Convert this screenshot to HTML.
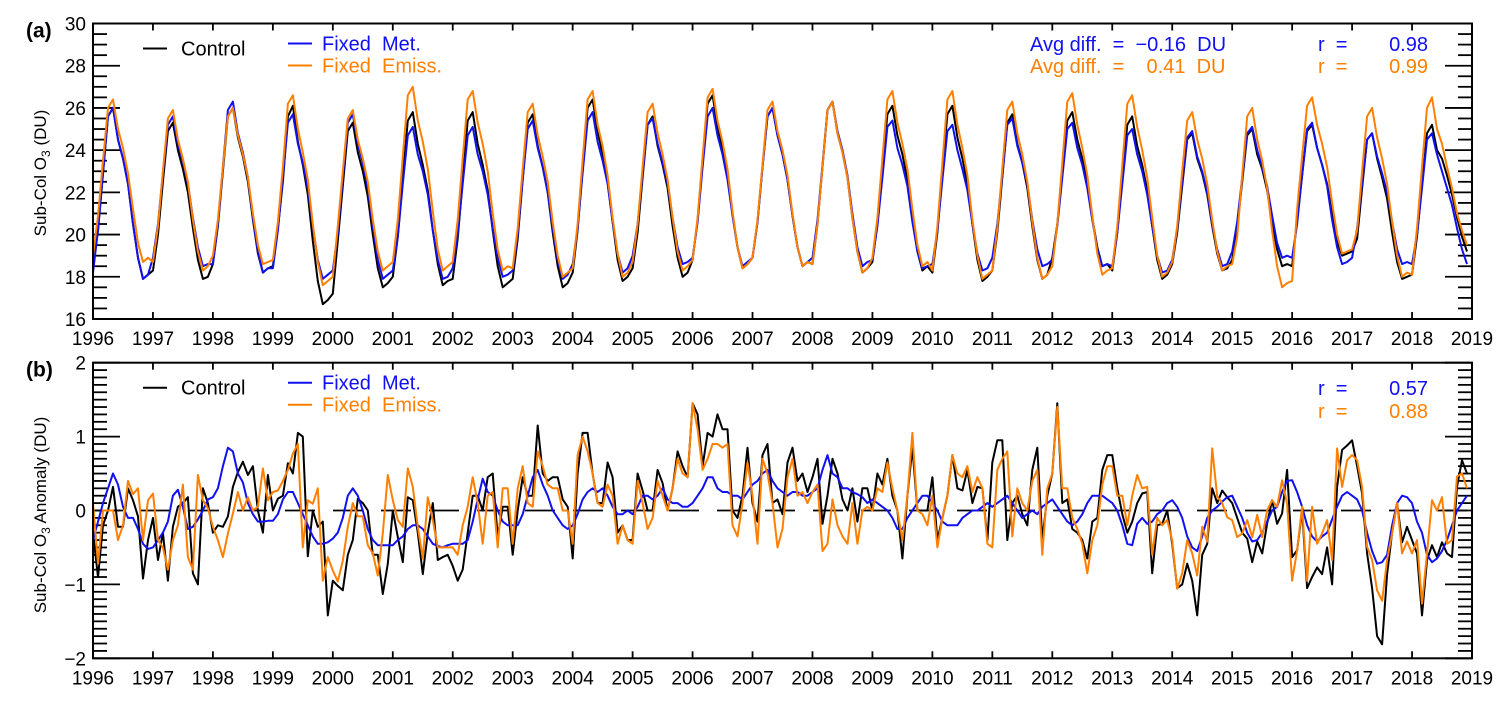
<!DOCTYPE html>
<html><head><meta charset="utf-8">
<style>
html,body{margin:0;padding:0;background:#fff;}
svg{display:block;font-family:"Liberation Sans",sans-serif;}
svg text{white-space:pre;}
</style></head>
<body>
<svg id="chart" width="1510" height="702" viewBox="0 0 1510 702" xmlns="http://www.w3.org/2000/svg" xml:space="preserve">
  <g id="panelA"></g>
  <g id="panelB"></g>
</svg>
<script>
// ---- data ----
const startYear = 1996;
const xTickYears = [1996,1997,1998,1999,2000,2001,2002,2003,2004,2005,2006,2007,2008,2009,2010,2011,2012,2013,2014,2015,2016,2017,2018,2019];
const yTicksA = [16,18,20,22,24,26,28,30];
const yTicksB = [-2,-1,0,1,2];

const controlA = [
18.9,20.2,22.9,25.6,26.0,24.5,23.6,22.4,20.5,18.9,17.9,18.1,
18.3,20.0,22.5,24.9,25.3,24.0,23.1,22.0,20.3,18.8,17.9,18.0,
18.6,20.4,23.0,25.6,26.0,24.6,23.7,22.5,20.7,19.1,18.2,18.4,
18.5,20.3,22.5,25.6,26.1,24.4,23.3,21.9,19.7,17.8,16.7,16.9,
17.2,19.7,22.3,24.9,25.3,23.9,23.0,21.8,20.0,18.4,17.5,17.7,
18.0,19.9,22.7,25.4,25.8,24.3,23.3,22.1,20.2,18.6,17.6,17.8,
17.9,19.8,22.6,25.4,25.8,24.3,23.3,22.1,20.2,18.5,17.5,17.7,
17.9,19.8,22.6,25.3,25.7,24.2,23.2,22.0,20.1,18.5,17.5,17.7,
18.2,20.2,23.1,26.0,26.4,24.9,23.8,22.5,20.6,18.8,17.8,18.0,
18.4,20.1,22.7,25.2,25.6,24.2,23.3,22.2,20.4,18.9,18.0,18.2,
18.8,20.7,23.5,26.2,26.6,25.1,24.1,22.9,21.0,19.4,18.4,18.6,
18.9,20.6,23.2,25.6,26.0,24.7,23.8,22.6,20.9,19.4,18.5,18.7,
18.6,20.5,23.2,25.9,26.3,24.8,23.9,22.7,20.8,19.2,18.2,18.4,
18.7,20.5,23.1,25.7,26.1,24.7,23.8,22.6,20.8,19.2,18.3,18.5,
18.2,20.1,23.0,25.7,26.1,24.6,23.6,22.4,20.5,18.8,17.8,18.0,
18.3,20.1,22.7,25.3,25.7,24.3,23.4,22.2,20.4,18.8,17.9,18.1,
18.9,20.5,23.0,25.4,25.8,24.5,23.6,22.5,20.8,19.4,18.5,18.6,
18.3,20.1,22.7,25.2,25.6,24.2,23.3,22.1,20.4,18.8,17.9,18.1,
18.6,20.1,22.3,24.5,24.8,23.6,22.9,21.9,20.4,19.1,18.3,18.4,
18.8,20.3,22.5,24.7,25.0,23.8,23.1,22.1,20.6,19.3,18.5,18.6,
18.5,20.7,22.8,24.9,25.2,24.1,23.3,22.4,21.0,19.7,19.0,19.1,
19.2,19.8,22.2,24.5,24.8,23.6,22.7,21.7,20.1,18.7,17.9,18.0,
18.1,19.9,22.4,24.8,25.2,24.0,23.6,22.8,21.9,20.8,19.9,19.2];
const fixedMetA = [
18.2,20.2,22.9,25.6,26.0,24.5,23.6,22.4,20.5,18.9,17.9,18.1,
18.9,20.5,22.9,25.2,25.6,24.3,23.5,22.4,20.8,19.4,18.5,18.6,
18.6,20.5,23.2,25.9,26.3,24.8,23.9,22.7,20.8,19.2,18.2,18.4,
18.4,20.2,22.7,25.3,25.7,24.3,23.4,22.2,20.4,18.8,17.9,18.1,
18.3,20.1,22.7,25.3,25.7,24.3,23.4,22.2,20.4,18.8,17.9,18.1,
18.3,19.9,22.4,24.7,25.1,23.8,23.0,21.9,20.2,18.8,17.9,18.0,
18.4,20.0,22.4,24.7,25.1,23.8,23.0,21.9,20.3,18.9,18.0,18.1,
18.3,20.0,22.6,25.0,25.4,24.1,23.2,22.0,20.3,18.8,17.9,18.1,
18.6,20.3,22.9,25.4,25.8,24.4,23.5,22.4,20.6,19.1,18.2,18.4,
19.0,20.5,22.9,25.2,25.5,24.3,23.4,22.4,20.8,19.4,18.6,18.7,
18.9,20.6,23.2,25.6,26.0,24.7,23.8,22.6,20.9,19.4,18.5,18.7,
18.9,20.6,23.2,25.6,26.0,24.7,23.8,22.6,20.9,19.4,18.5,18.7,
18.9,20.7,23.3,25.9,26.3,24.9,24.0,22.8,21.0,19.4,18.5,18.7,
18.8,20.4,22.7,25.1,25.4,24.1,23.3,22.3,20.6,19.2,18.4,18.5,
18.6,20.2,22.6,24.9,25.2,24.0,23.1,22.1,20.5,19.1,18.3,18.4,
18.9,20.5,22.8,25.2,25.5,24.2,23.4,22.4,20.7,19.3,18.5,18.6,
18.8,20.4,22.7,25.0,25.3,24.1,23.3,22.2,20.7,19.3,18.5,18.6,
18.5,20.1,22.4,24.7,25.0,23.8,23.0,21.9,20.4,19.0,18.2,18.3,
18.8,20.3,22.5,24.6,24.9,23.7,23.0,22.0,20.5,19.3,18.5,18.6,
19.2,20.6,22.7,24.8,25.1,24.0,23.2,22.3,20.9,19.6,18.9,19.0,
18.9,20.5,22.8,25.0,25.3,24.1,23.3,22.3,20.7,19.4,18.6,18.7,
18.9,20.3,22.4,24.5,24.8,23.7,22.9,22.0,20.6,19.3,18.6,18.7,
18.6,20.0,22.2,24.5,24.8,23.8,23.0,22.2,21.4,20.3,19.3,18.6];
const fixedEmissA = [
19.0,20.9,23.5,26.0,26.4,25.0,24.1,22.9,21.2,19.6,18.7,18.9,
18.7,20.4,23.0,25.5,25.9,24.5,23.6,22.5,20.7,19.2,18.3,18.5,
19.0,20.7,23.2,25.6,26.0,24.7,23.8,22.7,21.0,19.5,18.6,18.7,
18.8,20.6,23.2,26.2,26.6,25.0,23.9,22.6,20.5,18.7,17.6,17.8,
18.0,20.4,23.0,25.5,25.9,24.5,23.6,22.5,20.7,19.2,18.3,18.5,
18.7,20.7,23.7,26.6,27.0,25.4,24.4,23.1,21.1,19.3,18.3,18.5,
18.7,20.7,23.6,26.4,26.8,25.3,24.3,23.0,21.0,19.3,18.3,18.5,
18.4,20.3,23.1,25.8,26.2,24.7,23.7,22.5,20.6,19.0,18.0,18.2,
18.4,20.5,23.5,26.4,26.8,25.2,24.2,22.8,20.8,19.1,18.0,18.2,
18.7,20.5,23.2,25.8,26.2,24.8,23.8,22.6,20.8,19.2,18.3,18.5,
18.8,20.8,23.7,26.5,26.9,25.4,24.4,23.1,21.1,19.4,18.4,18.6,
18.9,20.7,23.3,25.9,26.3,24.9,24.0,22.8,21.0,19.4,18.5,18.7,
18.6,20.5,23.2,25.9,26.3,24.8,23.9,22.7,20.8,19.2,18.2,18.4,
18.9,20.8,23.6,26.4,26.8,25.3,24.3,23.1,21.2,19.5,18.5,18.7,
18.3,20.4,23.4,26.4,26.8,25.2,24.1,22.8,20.7,19.0,17.9,18.1,
18.3,20.3,23.1,25.9,26.3,24.8,23.8,22.5,20.6,18.9,17.9,18.1,
18.5,20.5,23.4,26.3,26.7,25.2,24.1,22.8,20.9,19.1,18.1,18.3,
18.4,20.4,23.3,26.2,26.6,25.1,24.0,22.7,20.8,19.0,18.0,18.2,
18.7,20.4,23.0,25.4,25.8,24.5,23.6,22.4,20.7,19.2,18.3,18.5,
18.6,19.9,22.8,25.6,26.0,24.5,23.5,22.2,20.2,18.5,17.5,17.7,
17.8,21.2,23.7,26.1,26.5,25.2,24.3,23.2,21.5,20.0,19.1,19.2,
19.3,20.2,23.0,25.6,26.0,24.6,23.6,22.4,20.6,19.0,18.0,18.2,
18.1,20.3,23.2,26.0,26.5,25.0,24.3,23.2,22.2,21.0,20.2,19.5];

const controlB = [
-0.3,-0.9,-0.2,0.0,0.32,-0.22,-0.22,0.3,0.14,-0.08,-0.92,-0.4,
-0.1,-0.67,-0.3,-0.95,-0.22,0.05,0.1,0.18,-0.85,-1.0,0.3,0.1,
-0.3,-0.2,-0.22,-0.08,0.32,0.52,0.66,0.48,0.6,0.0,-0.3,0.48,
0.0,0.16,0.2,0.64,0.5,1.05,1.0,-0.62,0.0,-0.22,-0.15,-1.42,
-0.95,-1.02,-1.08,-0.6,-0.4,0.16,0.1,0.0,-0.6,-0.6,-1.13,-0.72,
0.0,-0.36,-0.7,0.18,0.14,-0.3,-0.86,-0.3,0.1,-0.67,-0.63,-0.6,
-0.75,-0.95,-0.8,-0.3,0.2,0.2,0.0,0.45,0.5,-0.35,0.05,0.05,
-0.6,0.0,0.45,0.2,0.2,1.15,0.5,0.4,0.45,0.45,0.15,0.05,
-0.65,0.5,1.05,1.05,0.5,0.1,0.1,0.65,0.45,-0.3,-0.2,-0.4,
-0.4,0.5,0.27,0.0,0.0,0.55,0.37,0.0,0.3,0.8,0.6,0.45,
1.45,1.3,0.6,1.05,1.0,1.3,1.1,1.1,0.0,-0.1,0.2,0.85,
0.1,-0.15,0.75,0.9,0.1,0.15,-0.05,0.65,0.85,0.4,0.5,0.25,
0.45,0.7,-0.18,0.2,0.7,0.5,0.15,0.0,0.3,-0.15,0.3,0.3,
0.0,0.5,0.35,0.7,0.2,0.0,-0.65,0.2,0.85,0.0,0.0,0.0,
0.45,-0.4,-0.1,0.2,0.75,0.3,0.27,0.55,0.1,0.32,0.3,-0.4,
0.65,0.95,0.95,-0.4,0.1,0.2,-0.05,-0.2,0.55,0.85,-0.4,0.2,
0.5,1.45,0.1,0.15,-0.25,-0.3,-0.4,-0.65,-0.15,-0.1,0.55,0.75,
0.75,0.3,-0.05,-0.3,-0.15,0.1,0.23,0.25,-0.85,-0.2,-0.18,0.0,
-0.45,-1.05,-1.0,-0.72,-0.95,-1.42,-0.6,-0.45,0.3,0.1,0.27,0.18,
0.1,-0.1,-0.3,-0.38,-0.7,-0.42,-0.58,-0.18,0.14,-0.18,-0.04,0.55,
-0.63,-0.54,0.0,-1.05,-0.9,-0.77,-0.86,-0.5,-1.0,0.32,0.82,0.88,
0.95,0.6,0.23,-0.58,-1.05,-1.7,-1.81,-0.86,-0.3,0.1,-0.43,-0.22,
-0.4,-0.58,-1.42,-0.67,-0.47,-0.63,-0.43,-0.58,-0.63,0.32,0.68,0.5];
const fixedEmissB = [
0.1,-0.72,0.0,0.0,0.0,-0.4,-0.2,0.4,0.22,0.3,-0.4,0.14,
0.23,-0.4,-0.5,-0.8,-0.4,-0.2,0.35,-0.63,-0.8,0.48,0.14,0.03,
-0.22,-0.4,-0.63,-0.31,-0.04,0.25,0.0,0.18,0.0,0.05,0.57,0.14,
0.25,0.27,0.4,0.55,0.77,0.9,-0.5,0.14,0.09,0.3,-0.95,-0.63,
-0.81,-0.96,-0.68,-0.22,0.1,-0.08,-0.08,-0.47,-0.58,-0.88,-0.31,0.48,
0.14,-0.13,-0.22,0.57,0.32,-0.22,-0.65,0.18,-0.13,-0.5,-0.5,-0.5,
-0.5,-0.6,-0.2,0.05,0.45,0.1,-0.45,0.2,0.25,-0.5,0.3,0.3,
-0.45,0.3,0.6,0.1,0.05,0.8,0.6,0.35,0.3,0.3,0.0,0.0,
-0.45,0.75,1.0,0.8,0.5,0.1,0.05,0.35,0.2,-0.45,-0.2,-0.4,
-0.45,0.4,0.1,-0.25,-0.1,0.4,0.2,0.0,0.3,0.7,0.5,0.45,
1.45,1.1,0.55,0.7,0.9,0.9,0.85,0.9,-0.2,-0.35,0.1,0.65,
0.2,-0.45,0.7,0.5,0.1,-0.5,-0.25,0.45,0.7,0.2,0.25,0.1,
0.25,0.35,-0.55,-0.45,0.15,-0.2,-0.35,-0.45,0.1,-0.45,0.0,0.05,
0.0,0.3,0.25,0.65,0.3,0.0,-0.4,0.2,1.05,0.0,-0.05,-0.2,
0.2,-0.5,-0.1,0.2,0.75,0.5,0.45,0.6,0.25,0.45,0.3,-0.45,
-0.5,0.55,0.7,0.8,-0.35,0.3,0.1,0.0,0.4,0.55,-0.6,0.3,
0.5,1.4,0.3,0.3,-0.1,-0.25,-0.45,-0.85,-0.4,-0.2,0.35,0.6,
0.6,0.2,0.2,-0.2,0.2,0.48,0.3,0.32,-0.6,-0.1,-0.2,-0.13,
-0.4,-1.06,-0.85,-0.4,-0.58,-0.88,-0.22,-0.42,0.84,0.19,0.1,-0.09,
-0.13,-0.36,-0.31,-0.13,-0.36,-0.06,-0.36,0.0,0.14,0.05,0.41,0.09,
-0.95,-0.54,0.05,-0.95,0.05,-0.45,-0.31,-0.13,-0.67,0.84,0.32,0.68,
0.75,0.68,0.32,-0.49,-0.67,-1.08,-1.22,-0.67,-0.31,0.1,-0.58,-0.42,
-0.58,-0.4,-1.26,-0.58,0.14,0.0,0.18,-0.45,-0.4,0.46,0.5,0.3];
const fixedMetB = [
-0.4,-0.15,0.1,0.3,0.5,0.35,0.05,-0.1,-0.1,-0.25,-0.45,-0.52,
-0.5,-0.4,-0.3,-0.15,0.2,0.28,0.05,-0.25,-0.22,-0.12,0.0,0.15,
0.18,0.3,0.6,0.85,0.8,0.5,0.38,0.1,-0.05,-0.15,-0.15,-0.14,
-0.14,-0.05,0.15,0.25,0.25,0.1,-0.05,-0.2,-0.35,-0.45,-0.45,-0.43,
-0.38,-0.3,-0.1,0.2,0.3,0.2,0.0,-0.25,-0.4,-0.47,-0.47,-0.47,
-0.47,-0.4,-0.35,-0.25,-0.2,-0.2,-0.25,-0.35,-0.45,-0.48,-0.5,-0.47,
-0.45,-0.45,-0.45,-0.4,-0.15,0.15,0.43,0.25,0.2,0.0,-0.15,-0.2,
-0.2,-0.2,-0.05,0.2,0.45,0.55,0.35,0.2,0.0,-0.1,-0.2,-0.25,
-0.2,-0.05,0.15,0.25,0.3,0.25,0.3,0.2,0.05,-0.05,-0.05,0.0,
-0.05,0.05,0.2,0.2,0.15,0.2,0.3,0.15,0.1,0.1,0.05,0.05,
0.1,0.2,0.3,0.45,0.45,0.3,0.25,0.25,0.2,0.2,0.15,0.25,
0.35,0.4,0.5,0.55,0.4,0.3,0.25,0.2,0.25,0.25,0.2,0.2,
0.25,0.3,0.55,0.75,0.5,0.45,0.3,0.3,0.25,0.22,0.18,0.1,
0.15,0.1,0.05,0.0,-0.1,-0.25,-0.25,-0.1,0.0,0.1,0.2,0.2,
0.1,0.0,-0.15,-0.2,-0.2,-0.2,-0.1,-0.05,0.0,0.0,0.05,0.1,
0.05,0.1,0.15,0.2,0.1,0.0,-0.1,-0.05,0.0,-0.05,0.05,0.1,
0.15,0.05,-0.05,-0.15,-0.2,-0.15,-0.05,0.1,0.2,0.2,0.2,0.15,
0.1,0.0,-0.2,-0.45,-0.47,-0.18,-0.1,-0.18,-0.15,-0.05,0.0,0.1,
0.14,0.05,-0.1,-0.35,-0.5,-0.55,-0.35,-0.1,0.0,0.05,0.12,0.18,
0.2,0.05,-0.1,-0.3,-0.42,-0.4,-0.3,-0.15,0.0,0.05,0.25,0.4,
0.41,0.25,0.05,-0.2,-0.35,-0.42,-0.35,-0.3,-0.12,0.05,0.2,0.25,
0.2,0.15,0.0,-0.3,-0.55,-0.72,-0.7,-0.6,-0.2,0.1,0.2,0.18,
0.1,-0.15,-0.3,-0.6,-0.7,-0.65,-0.55,-0.4,-0.2,0.0,0.1,0.2];

// ---- rendering ----
const NS = "http://www.w3.org/2000/svg";
const X0 = 93, X1 = 1472;
function xScale(year){ return X0 + (year - 1996) / 23 * (X1 - X0); }
function monthX(i){ return xScale(startYear + i / 12); }
function mk(tag, attrs, parent){
  const e = document.createElementNS(NS, tag);
  for (const k in attrs) e.setAttribute(k, attrs[k]);
  parent.appendChild(e);
  return e;
}
const BLUE = "#1010f0", ORANGE = "#ff8000";

function drawPanel(g, cfg){
  const yS = v => cfg.top + (cfg.vmax - v) / (cfg.vmax - cfg.vmin) * (cfg.bottom - cfg.top);
  for (let v = cfg.vmin; v <= cfg.vmax + 1e-9; v += cfg.minor){
    const y = yS(v);
    const isMajor = cfg.ticks.some(t => Math.abs(t - v) < 1e-6);
    const len = isMajor ? 27 : 14;
    const t1 = mk("line", {x1: X0, x2: X0 + len, y1: y, y2: y, stroke: "#000", "stroke-width": 1.8}, g);
    
    
    const t2 = mk("line", {x1: X1, x2: X1 - len, y1: y, y2: y, stroke: "#000", "stroke-width": 1.8}, g);
    
    
  }
  cfg.ticks.forEach(t => {
    const lab = mk("text", {x: 86, y: yS(t) + 7, "text-anchor": "end", "font-size": 19, fill: "#000"}, g);
    lab.textContent = t < 0 ? "\u2212" + Math.abs(t) : String(t);
    
    
  });
  xTickYears.forEach(yr => {
    const x = xScale(yr);
    const a = mk("line", {x1: x, x2: x, y1: cfg.bottom, y2: cfg.bottom - 7, stroke: "#000", "stroke-width": 1.8}, g);
    
    
    const b = mk("line", {x1: x, x2: x, y1: cfg.top, y2: cfg.top + 7, stroke: "#000", "stroke-width": 1.8}, g);
    
    
    const lab = mk("text", {x: x, y: cfg.bottom + 26, "text-anchor": "middle", "font-size": 19, fill: "#000"}, g);
    lab.textContent = yr;
    
    
  });
  if (cfg.zeroLine){
    const z = mk("line", {x1: X0, x2: X1, y1: yS(0), y2: yS(0), stroke: "#000", "stroke-width": 1.8, "stroke-dasharray": "30 18"}, g);
    
    
  }
  cfg.series.forEach(s => {
    const pts = s.data.map((v, i) => monthX(i).toFixed(1) + "," + yS(v).toFixed(1)).join(" ");
    const p = mk("polyline", {points: pts, fill: "none", stroke: s.color, "stroke-width": 2, "stroke-linejoin": "round"}, g);
    
    
  });
  const fr = mk("rect", {x: X0, y: cfg.top, width: X1 - X0, height: cfg.bottom - cfg.top, fill: "none", stroke: "#000", "stroke-width": 2}, g);
  
  
  const pl = mk("text", {x: 26, y: cfg.top + 14, "font-size": 21, "font-weight": "bold", fill: "#000"}, g);
  pl.textContent = cfg.label;
  
  
  const cy = cfg.titleY;
  const yt = mk("text", {x: 0, y: 0, transform: "translate(46," + cy + ") rotate(-90)", "text-anchor": "middle", "font-size": 17, fill: "#000"}, g);
  
  
  const t1 = mk("tspan", {}, yt); t1.textContent = cfg.titleA;
  const t2 = mk("tspan", {"font-size": 12, dy: 4}, yt); t2.textContent = "3";
  const t3 = mk("tspan", {dy: -4}, yt); t3.textContent = cfg.titleB;
  const ly = cfg.top;
  const legend = mk("g", {}, g);
  
  
  const items = [
    {n: "legend-control", c: "#000", t: "Control", x: 143, y: ly + 25, tx: 181},
    {n: "legend-fixed-met", c: BLUE, t: "Fixed  Met.", x: 288, y: ly + 20, tx: 322},
    {n: "legend-fixed-emiss", c: ORANGE, t: "Fixed  Emiss.", x: 288, y: ly + 42, tx: 322}
  ];
  items.forEach(it => {
    const e = mk("g", {}, legend);
    
    
    mk("line", {x1: it.x, x2: it.x + 24, y1: it.y, y2: it.y, stroke: it.c, "stroke-width": 2}, e);
    const tx = mk("text", {x: it.tx, y: it.y + 7, "font-size": 20, fill: it.c}, e);
    tx.textContent = it.t;
  });
  cfg.stats.forEach(st => {
    const tg = mk("g", {}, g);
    
    
    st.parts.forEach(p => {
      const t = mk("text", {x: p.x, y: st.y, "text-anchor": p.anchor || "start", "font-size": 20, fill: st.color}, tg);
      t.textContent = p.t;
    });
  });
}

drawPanel(document.getElementById("panelA"), {
  top: 23.5, bottom: 319, vmin: 16, vmax: 30, minor: 0.5, ticks: yTicksA,
  label: "(a)", titleY: 173, titleA: "Sub-Col O", titleB: " (DU)", zeroLine: false,
  series: [
    {name: "series-control", color: "#000", data: controlA},
    {name: "series-fixed-met", color: BLUE, data: fixedMetA},
    {name: "series-fixed-emiss", color: ORANGE, data: fixedEmissA}
  ],
  stats: [
    {name: "stats-fixed-met", color: BLUE, y: 51, parts: [
      {x: 1030, t: "Avg diff.  =  \u22120.16  DU"}, {x: 1318, t: "r  ="}, {x: 1428, t: "0.98", anchor: "end"}]},
    {name: "stats-fixed-emiss", color: ORANGE, y: 73, parts: [
      {x: 1030, t: "Avg diff.  =    0.41  DU"}, {x: 1318, t: "r  ="}, {x: 1428, t: "0.99", anchor: "end"}]}
  ]
});
drawPanel(document.getElementById("panelB"), {
  top: 362.7, bottom: 658.3, vmin: -2, vmax: 2, minor: 0.1, ticks: yTicksB,
  label: "(b)", titleY: 515, titleA: "Sub-Col O", titleB: " Anomaly (DU)", zeroLine: true,
  series: [
    {name: "series-control-anomaly", color: "#000", data: controlB},
    {name: "series-fixed-met-anomaly", color: BLUE, data: fixedMetB},
    {name: "series-fixed-emiss-anomaly", color: ORANGE, data: fixedEmissB}
  ],
  stats: [
    {name: "r-fixed-met", color: BLUE, y: 395, parts: [{x: 1318, t: "r  ="}, {x: 1428, t: "0.57", anchor: "end"}]},
    {name: "r-fixed-emiss", color: ORANGE, y: 418, parts: [{x: 1318, t: "r  ="}, {x: 1428, t: "0.88", anchor: "end"}]}
  ]
});
</script>
</body></html>
